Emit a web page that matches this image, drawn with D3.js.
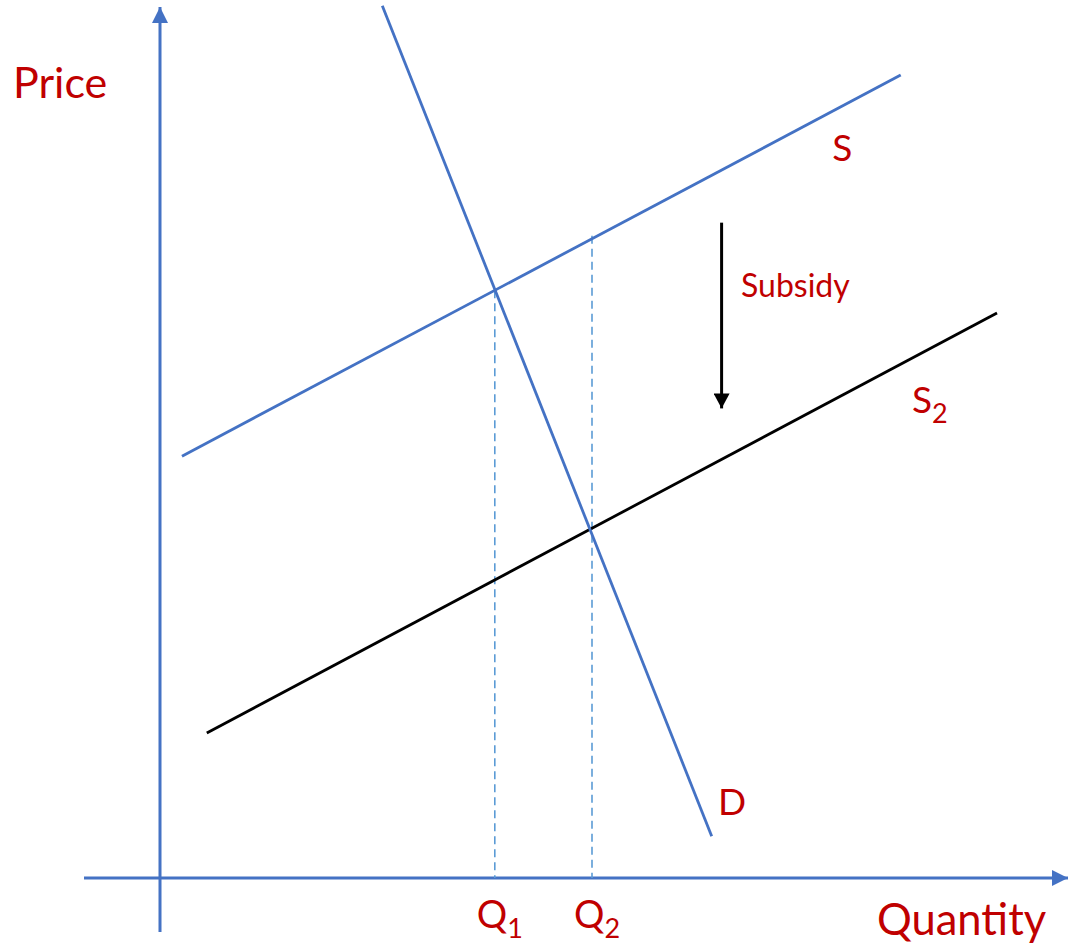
<!DOCTYPE html>
<html><head><meta charset="utf-8">
<script src="https://cdn.jsdelivr.net/npm/d3@7"></script>
<style>html,body{margin:0;padding:0;background:#fff;}svg{display:block;}</style>
</head><body>
<svg id="c" width="1068" height="944"></svg>
<script>
// Data (quantity 0-100, price 0-100 units)
const supplyS  = [{q:2.44,p:48.6},{q:82.3,p:92.5}];
const supplyS2 = [{q:5.2,p:16.7},{q:93.0,p:65.1}];
const demandD  = [{q:24.7,p:100.5},{q:61.3,p:4.8}];
const guides   = [{label:"1",q:37.2,p:67.7},{label:"2",q:48.0,p:74.0}];
const subsidyArrow = [{q:62.4,p:75.5},{q:62.4,p:54.1}];
const lineLabels = [{t:"S",q:74.7,p:82.6},{t:"D",q:62.0,p:7.3}];

const svg = d3.select("#c");
const x = d3.scaleLinear().domain([0,100]).range([160,1060]);
const y = d3.scaleLinear().domain([0,100]).range([878,10]);
const blue = "#4472C4", lblue = "#5B9BD5", red = "#C00000";
const font = "Lato, 'Open Sans', sans-serif";

const defs = svg.append("defs");
function marker(id,color,w,h){
  defs.append("marker").attr("id",id).attr("viewBox",`0 0 ${h} ${w}`)
    .attr("refX",h).attr("refY",w/2).attr("markerWidth",h).attr("markerHeight",w)
    .attr("markerUnits","userSpaceOnUse").attr("orient","auto")
    .append("path").attr("d",`M0,0L${h},${w/2}L0,${w}Z`).attr("fill",color);
}
marker("ab",blue,16,16);
marker("ak","#000",16,15);

// axes
svg.append("line").attr("x1",x(0)).attr("x2",x(0)).attr("y1",932).attr("y2",7)
  .attr("stroke",blue).attr("stroke-width",3).attr("marker-end","url(#ab)");
svg.append("line").attr("x1",84).attr("x2",1068).attr("y1",y(0)).attr("y2",y(0))
  .attr("stroke",blue).attr("stroke-width",3).attr("marker-end","url(#ab)");

const line = d3.line().x(d=>x(d.q)).y(d=>y(d.p));

// guides
svg.selectAll(".g").data(guides).enter().append("line")
  .attr("x1",d=>x(d.q)).attr("x2",d=>x(d.q)).attr("y1",d=>y(d.p)).attr("y2",y(0))
  .attr("stroke",lblue).attr("stroke-width",1.6).attr("stroke-dasharray","8,5");

svg.append("path").attr("d",line(supplyS)).attr("stroke",blue).attr("stroke-width",2.8).attr("fill","none");
svg.append("path").attr("d",line(supplyS2)).attr("stroke","#000").attr("stroke-width",2.8).attr("fill","none");
svg.append("path").attr("d",line(demandD)).attr("stroke",blue).attr("stroke-width",2.8).attr("fill","none");
svg.append("path").attr("d",line(subsidyArrow)).attr("stroke","#000").attr("stroke-width",3).attr("fill","none").attr("marker-end","url(#ak)");

// labels
svg.append("text").attr("x",13).attr("y",98).attr("font-family",font).attr("font-size",43).attr("fill",red).text("Price");
svg.append("text").attr("x",877).attr("y",935).attr("font-family",font).attr("font-size",43.5).attr("fill",red).text("Quantity");
svg.selectAll(".ll").data(lineLabels).enter().append("text")
  .attr("x",d=>x(d.q)).attr("y",d=>y(d.p)).attr("font-family",font).attr("font-size",37).attr("fill",red).text(d=>d.t);
const s2 = svg.append("text").attr("x",912).attr("y",413).attr("font-family",font).attr("font-size",37).attr("fill",red);
s2.append("tspan").text("S");
s2.append("tspan").attr("font-size",27).attr("dy",10).text("2");
svg.append("text").attr("x",741).attr("y",297).attr("font-family",font).attr("font-size",32).attr("fill",red).text("Subsidy");
guides.forEach(g=>{
  const t = svg.append("text").attr("x",x(g.q)-18).attr("y",928).attr("font-family",font).attr("font-size",38).attr("fill",red);
  t.append("tspan").text("Q");
  t.append("tspan").attr("font-size",27).attr("dy",10).text(g.label);
});
</script>
</body></html>
